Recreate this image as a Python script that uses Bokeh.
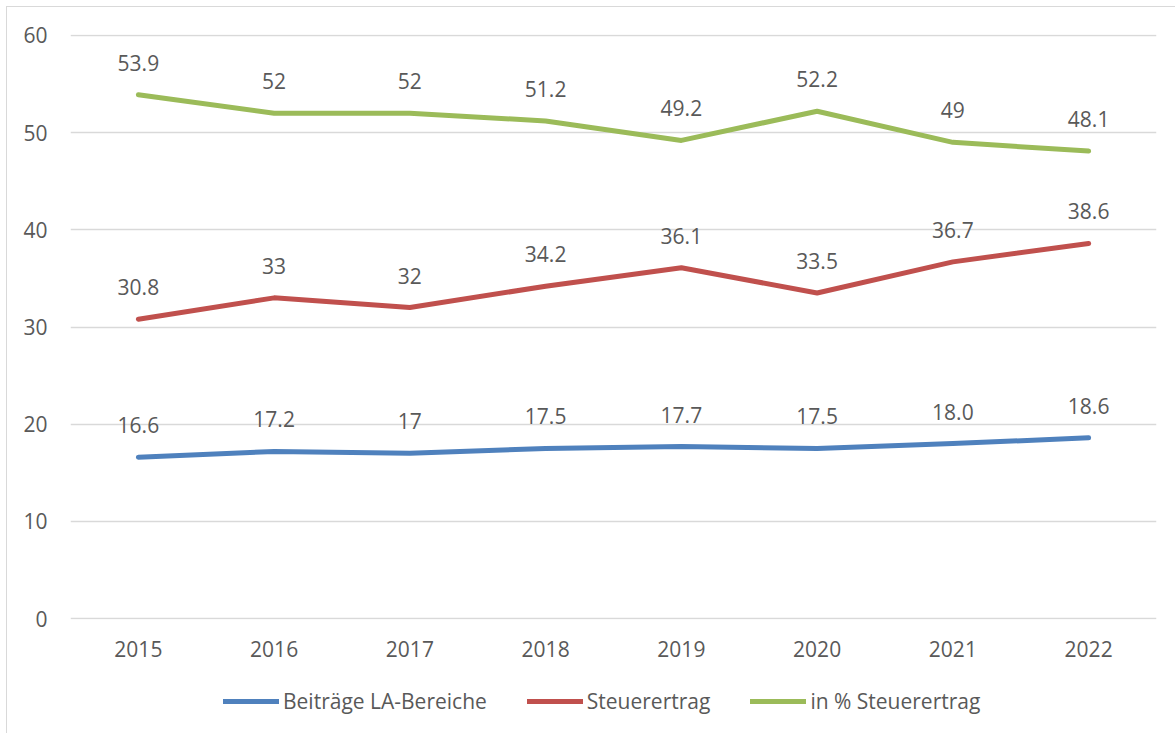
from bokeh.plotting import figure
from bokeh.layouts import column
from bokeh.models import (ColumnDataSource, LabelSet, Legend, LegendItem, FactorRange, Range1d,
                          SingleIntervalTicker)
from bokeh.core.properties import value
from bokeh.embed import file_html
from bokeh.resources import INLINE

years = ["2015", "2016", "2017", "2018", "2019", "2020", "2021", "2022"]
beitraege = [16.6, 17.2, 17.0, 17.5, 17.7, 17.5, 18.0, 18.6]
beitraege_labels = ["16.6", "17.2", "17", "17.5", "17.7", "17.5", "18.0", "18.6"]
steuerertrag = [30.8, 33.0, 32.0, 34.2, 36.1, 33.5, 36.7, 38.6]
steuerertrag_labels = ["30.8", "33", "32", "34.2", "36.1", "33.5", "36.7", "38.6"]
prozent = [53.9, 52.0, 52.0, 51.2, 49.2, 52.2, 49.0, 48.1]
prozent_labels = ["53.9", "52", "52", "51.2", "49.2", "52.2", "49", "48.1"]
series_names = ["Beiträge LA-Bereiche", "Steuerertrag", "in % Steuerertrag"]
colors = ["#4F81BD", "#C0504D", "#9BBB59"]

FONT = "Open Sans"
TXT = "#595959"
FS = "21px"

W = 1168
p = figure(width=W, height=673, x_range=FactorRange(factors=years, range_padding=0),
           y_range=Range1d(-0.1, 60.1), output_backend="svg", toolbar_location=None,
           min_border_left=63, min_border_right=19, min_border_top=27, min_border_bottom=61)
p.outline_line_color = None
p.background_fill_color = "white"

p.yaxis.ticker = SingleIntervalTicker(interval=10)
p.ygrid.grid_line_color = "#d9d9d9"
p.ygrid.grid_line_width = 1.5
p.xgrid.grid_line_color = None
for ax in (p.xaxis, p.yaxis):
    ax.axis_line_color = None
    ax.major_tick_line_color = None
    ax.minor_tick_line_color = None
    ax.major_tick_out = 0
    ax.major_tick_in = 0
    ax.major_label_text_font = FONT
    ax.major_label_text_font_size = FS
    ax.major_label_text_color = TXT
p.yaxis.major_label_standoff = 19
p.xaxis.major_label_standoff = 21

series = [(beitraege, beitraege_labels, series_names[0], colors[0]),
          (steuerertrag, steuerertrag_labels, series_names[1], colors[1]),
          (prozent, prozent_labels, series_names[2], colors[2])]
for vals, labs, name, col in series:
    src = ColumnDataSource(dict(x=years, y=vals, t=labs))
    p.line("x", "y", source=src, line_color=col, line_width=5, line_join="round", line_cap="round")
    ls = LabelSet(x="x", y="y", text="t", source=src, y_offset=32, text_align="center",
                  text_baseline="middle", text_font=value(FONT), text_font_size=value(FS),
                  text_color=value(TXT))
    p.add_layout(ls)

# legend strip below the chart (its series lines lie outside its own visible range)
lg = figure(width=W, height=53, x_range=FactorRange(factors=years, range_padding=0),
            y_range=Range1d(-200, -199), output_backend="svg", toolbar_location=None,
            min_border_left=0, min_border_right=0, min_border_top=0, min_border_bottom=0)
lg.axis.visible = False
lg.grid.visible = False
lg.outline_line_color = None
items = []
for vals, labs, name, col in series:
    r = lg.line(x=years, y=vals, line_color=col, line_width=5, line_cap="round")
    items.append(LegendItem(label=name, renderers=[r]))
legend = Legend(items=items, orientation="horizontal", location=(153, 18),
                label_text_font=FONT, label_text_font_size=FS, label_text_color=TXT,
                glyph_width=56, glyph_height=20, label_standoff=4, spacing=40,
                border_line_color=None, background_fill_alpha=0, padding=0, margin=0)
lg.add_layout(legend)

layout = column(p, lg, spacing=0)
layout.styles = {"border-left": "1px solid #d9d9d9", "border-top": "1px solid #d9d9d9",
                 "margin-left": "6px", "margin-top": "6px"}

open("out.html", "w").write(file_html(layout, INLINE))
